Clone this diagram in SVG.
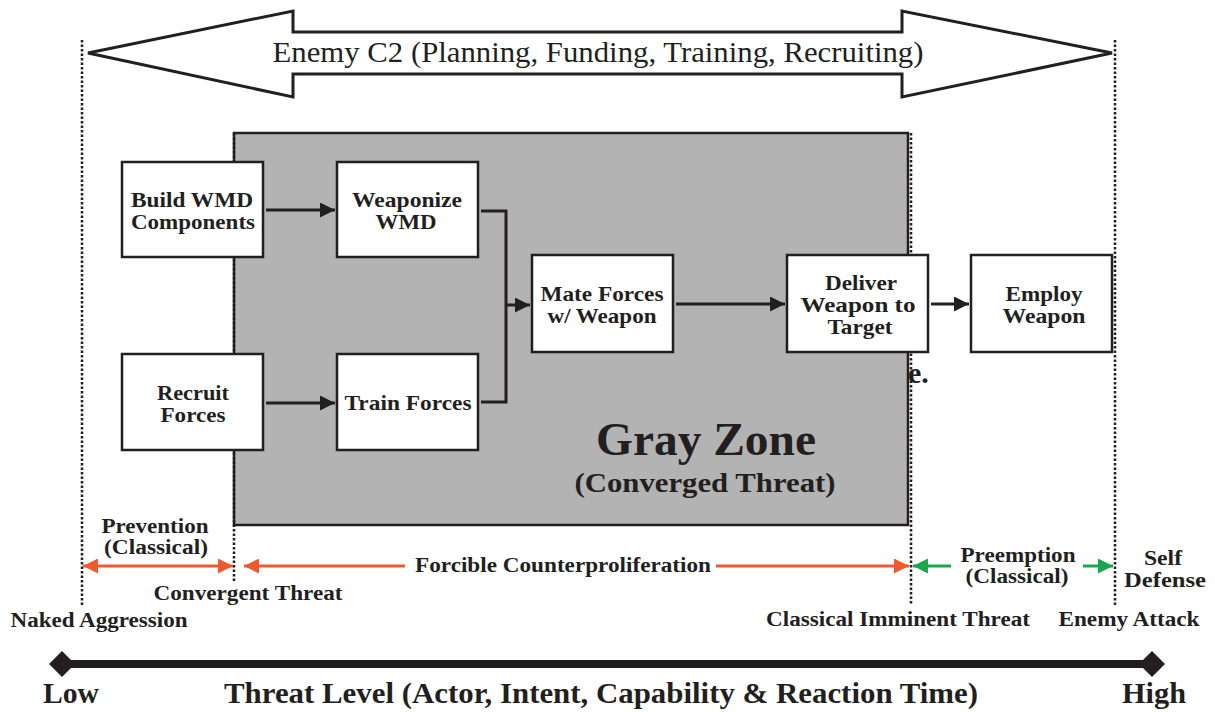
<svg xmlns="http://www.w3.org/2000/svg" width="1215" height="712" viewBox="0 0 1215 712">
<style>
.box{fill:#fff;stroke:#231f20;stroke-width:2.5}
.bt{font-family:"Liberation Serif",serif;font-weight:bold;font-size:21px;fill:#231f20;text-anchor:middle}
.lb{font-family:"Liberation Serif",serif;font-weight:bold;font-size:20px;fill:#231f20;text-anchor:middle}
.dot{stroke:#231f20;stroke-width:2.5;stroke-dasharray:2.5 2;fill:none}
.con{stroke:#231f20;stroke-width:3;fill:none}
.or{stroke:#ee5a2f;stroke-width:3;fill:none}
.gr{stroke:#1aa64b;stroke-width:3;fill:none}
.big{font-family:"Liberation Serif",serif;font-weight:bold;font-size:29px;fill:#231f20;text-anchor:middle}
</style>
<defs>
<marker id="ah" viewBox="0 0 10 10" refX="10" refY="5" markerWidth="5" markerHeight="5" orient="auto-start-reverse" markerUnits="strokeWidth"><path d="M0,0 L10,5 L0,10 z" fill="#231f20"/></marker>
<marker id="ao" viewBox="0 0 10 10" refX="10" refY="5" markerWidth="6" markerHeight="5" orient="auto-start-reverse" markerUnits="strokeWidth"><path d="M0,0 L10,5 L0,10 z" fill="#ee5a2f"/></marker>
<marker id="ag" viewBox="0 0 10 10" refX="10" refY="5" markerWidth="6" markerHeight="5" orient="auto-start-reverse" markerUnits="strokeWidth"><path d="M0,0 L10,5 L0,10 z" fill="#1aa64b"/></marker>
</defs>
<rect width="1215" height="712" fill="#fff"/>

<g id="enemy-c2">
<path d="M88,53 L293,11 L293,32 L902,32 L902,11 L1112,53 L902,97 L902,74 L293,74 L293,97 Z" fill="#fff" stroke="#231f20" stroke-width="3" stroke-linejoin="miter"/>
<text x="598" y="62" font-family="Liberation Serif, serif" font-size="29" fill="#231f20" text-anchor="middle" textLength="651" lengthAdjust="spacingAndGlyphs">Enemy C2 (Planning, Funding, Training, Recruiting)</text>
</g>

<text x="908" y="383" font-family="Liberation Serif, serif" font-weight="bold" font-size="30" fill="#231f20">e.</text>

<g id="gray-zone">
<rect x="234" y="133" width="674" height="392" fill="#b3b3b3" stroke="#231f20" stroke-width="2.5"/>
<text x="706" y="455" font-family="Liberation Serif, serif" font-weight="bold" font-size="46" fill="#231f20" text-anchor="middle" textLength="220" lengthAdjust="spacingAndGlyphs">Gray Zone</text>
<text x="705" y="492" font-family="Liberation Serif, serif" font-weight="bold" font-size="28" fill="#231f20" text-anchor="middle" textLength="261" lengthAdjust="spacingAndGlyphs">(Converged Threat)</text>
</g>

<g id="dotted-lines">
<line class="dot" x1="82" y1="40" x2="82" y2="605"/>
<line class="dot" x1="234" y1="133" x2="234" y2="582"/>
<line class="dot" x1="911" y1="133" x2="911" y2="605"/>
<line class="dot" x1="1115" y1="40" x2="1115" y2="605"/>
</g>

<g id="build-wmd"><rect class="box" x="122" y="162" width="141" height="95"/>
<text class="bt" x="192" y="207" textLength="122" lengthAdjust="spacingAndGlyphs">Build WMD</text><text class="bt" x="193" y="229" textLength="124" lengthAdjust="spacingAndGlyphs">Components</text></g>
<g id="weaponize-wmd"><rect class="box" x="337" y="162" width="141" height="95"/>
<text class="bt" x="407" y="207" textLength="110" lengthAdjust="spacingAndGlyphs">Weaponize</text><text class="bt" x="406" y="229" textLength="61" lengthAdjust="spacingAndGlyphs">WMD</text></g>
<g id="recruit-forces"><rect class="box" x="122" y="354" width="141" height="96"/>
<text class="bt" x="193" y="400" textLength="72" lengthAdjust="spacingAndGlyphs">Recruit</text><text class="bt" x="193" y="422" textLength="65" lengthAdjust="spacingAndGlyphs">Forces</text></g>
<g id="train-forces"><rect class="box" x="337" y="354" width="141" height="96"/>
<text class="bt" x="408" y="410" textLength="127" lengthAdjust="spacingAndGlyphs">Train Forces</text></g>
<g id="mate-forces"><rect class="box" x="532" y="255" width="141" height="97"/>
<text class="bt" x="602" y="301" textLength="123" lengthAdjust="spacingAndGlyphs">Mate Forces</text><text class="bt" x="602" y="323" textLength="109" lengthAdjust="spacingAndGlyphs">w/ Weapon</text></g>
<g id="deliver-weapon"><rect class="box" x="787" y="255" width="141" height="97"/>
<text class="bt" x="861" y="290" textLength="72" lengthAdjust="spacingAndGlyphs">Deliver</text><text class="bt" x="858" y="312" textLength="115" lengthAdjust="spacingAndGlyphs">Weapon to</text><text class="bt" x="860" y="334" textLength="65" lengthAdjust="spacingAndGlyphs">Target</text></g>
<g id="employ-weapon"><rect class="box" x="971" y="255" width="141" height="97"/>
<text class="bt" x="1044" y="301" textLength="77" lengthAdjust="spacingAndGlyphs">Employ</text><text class="bt" x="1044" y="323" textLength="83" lengthAdjust="spacingAndGlyphs">Weapon</text></g>

<g id="connectors">
<line class="con" x1="266" y1="210" x2="335" y2="210" marker-end="url(#ah)"/>
<line class="con" x1="266" y1="403" x2="335" y2="403" marker-end="url(#ah)"/>
<polyline class="con" points="481,211 506,211 506,402 481,402"/>
<line class="con" x1="506" y1="305" x2="530" y2="305" marker-end="url(#ah)"/>
<line class="con" x1="676" y1="304" x2="785" y2="304" marker-end="url(#ah)"/>
<line class="con" x1="931" y1="304" x2="969" y2="304" marker-end="url(#ah)"/>
<line class="or" x1="83" y1="566" x2="233" y2="566" marker-start="url(#ao)" marker-end="url(#ao)"/>
<line class="or" x1="244" y1="566" x2="405" y2="566" marker-start="url(#ao)"/>
<line class="or" x1="716" y1="566" x2="909" y2="566" marker-end="url(#ao)"/>
<line class="gr" x1="913" y1="566" x2="951" y2="566" marker-start="url(#ag)"/>
<line class="gr" x1="1083" y1="566" x2="1113" y2="566" marker-end="url(#ag)"/>
</g>

<g id="labels">
<text class="lb" x="155" y="533" textLength="107" lengthAdjust="spacingAndGlyphs">Prevention</text>
<text class="lb" x="156" y="554" textLength="104" lengthAdjust="spacingAndGlyphs">(Classical)</text>
<text class="lb" x="563" y="572" textLength="296" lengthAdjust="spacingAndGlyphs">Forcible Counterproliferation</text>
<text class="lb" x="1018" y="562" textLength="115" lengthAdjust="spacingAndGlyphs">Preemption</text>
<text class="lb" x="1017" y="583" textLength="103" lengthAdjust="spacingAndGlyphs">(Classical)</text>
<text class="lb" x="1163" y="565" textLength="38" lengthAdjust="spacingAndGlyphs">Self</text>
<text class="lb" x="1165" y="587" textLength="82" lengthAdjust="spacingAndGlyphs">Defense</text>
<text class="lb" x="248" y="600" textLength="189" lengthAdjust="spacingAndGlyphs">Convergent Threat</text>
<text class="lb" x="99" y="627" textLength="177" lengthAdjust="spacingAndGlyphs">Naked Aggression</text>
<text class="lb" x="898" y="626" textLength="264" lengthAdjust="spacingAndGlyphs">Classical Imminent Threat</text>
<text class="lb" x="1129" y="626" textLength="141" lengthAdjust="spacingAndGlyphs">Enemy Attack</text>
</g>

<g id="threat-level">
<line x1="62" y1="664" x2="1152" y2="664" stroke="#231f20" stroke-width="8"/>
<path d="M62,651 L75,664 L62,677 L49,664 Z" fill="#231f20"/>
<path d="M1152,651 L1165,664 L1152,677 L1139,664 Z" fill="#231f20"/>
<text class="big" x="71" y="703" textLength="56" lengthAdjust="spacingAndGlyphs">Low</text>
<text class="big" x="601" y="703" textLength="754" lengthAdjust="spacingAndGlyphs">Threat Level (Actor, Intent, Capability &amp; Reaction Time)</text>
<text class="big" x="1154" y="703" textLength="64" lengthAdjust="spacingAndGlyphs">High</text>
</g>
</svg>
